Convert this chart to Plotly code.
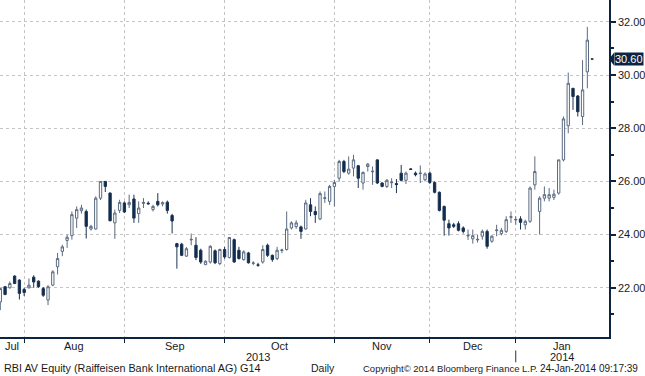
import numpy as np
import plotly.graph_objects as go

# ---------------- data ----------------
months = ["Jul", "Aug", "Sep", "Oct", "Nov", "Dec", "Jan"]
days_in_month = [5, 21, 21, 23, 20, 18, 17]
year_labels = ["2013", "2014"]
y_ticks = [22, 24, 26, 28, 30, 32]
y_minor = [21, 23, 25, 27, 29, 31]
last_price = 30.60

opens = [21.47, 22.04, 22.00, 22.44, 22.29, 21.94, 22.00, 22.40, 22.25, 21.97,
         21.54, 22.10, 22.79, 23.37, 23.78, 23.96, 24.62, 24.90, 24.87, 24.21,
         24.21, 25.37, 26.00, 25.56, 24.44, 24.91, 25.19, 25.12, 25.34, 24.79,
         25.17, 25.18, 24.94, 25.25, 25.15, 25.22, 24.72, 23.66, 23.64, 23.19,
         23.80, 23.60, 23.41, 22.87, 22.97, 23.39, 22.91, 23.44, 23.14, 23.81,
         23.41, 23.06, 23.31, 22.92, 22.86, 22.97, 23.60, 23.22, 23.10, 23.40,
         23.44, 24.25, 24.30, 24.29, 24.21, 25.12, 24.87, 24.59, 25.36, 25.25,
         25.81, 26.12, 26.75, 26.31, 26.50, 26.59, 25.94, 26.56, 26.36, 26.81,
         25.94, 25.81, 25.95, 25.92, 26.31, 26.04, 26.47, 26.31, 26.29, 26.06,
         26.31, 25.96, 25.59, 25.06, 24.41, 24.37, 24.41, 24.25, 23.95, 23.84,
         23.80, 23.94, 24.12, 23.75, 24.15, 24.04, 24.12, 24.65, 24.55, 24.59,
         24.37, 24.50, 25.87, 24.87, 25.37, 25.37, 25.40, 25.56, 26.81, 28.09,
         29.50, 29.21, 28.44, 30.12, 30.60]
highs = [21.99, 22.07, 22.24, 22.47, 22.32, 22.00, 22.35, 22.47, 22.28, 22.03,
         22.10, 22.66, 23.31, 23.62, 24.00, 24.87, 25.06, 25.12, 24.94, 24.37,
         25.44, 26.00, 26.00, 25.59, 24.94, 25.31, 25.25, 25.50, 25.50, 25.25,
         25.37, 25.25, 25.12, 25.56, 25.25, 25.28, 24.78, 23.69, 23.69, 23.53,
         24.04, 23.90, 23.47, 23.03, 23.60, 23.44, 23.47, 23.54, 23.91, 23.85,
         23.54, 23.41, 23.35, 23.00, 22.94, 23.60, 23.66, 23.25, 23.54, 23.47,
         24.87, 24.50, 24.54, 24.34, 25.31, 25.37, 25.06, 25.62, 25.62, 25.87,
         26.06, 26.81, 26.81, 26.94, 27.00, 26.62, 26.37, 26.69, 26.56, 26.81,
         25.97, 26.09, 26.12, 26.09, 26.62, 26.37, 26.50, 26.37, 26.60, 26.34,
         26.37, 26.00, 25.62, 25.09, 24.56, 24.44, 24.50, 24.31, 24.19, 24.19,
         24.00, 24.19, 24.19, 23.97, 24.37, 24.25, 24.69, 24.87, 24.69, 24.69,
         24.56, 25.81, 26.94, 25.44, 25.81, 25.75, 25.69, 26.81, 28.44, 30.09,
         29.50, 29.25, 30.56, 31.81, 30.60]
lows = [21.16, 21.72, 21.97, 22.14, 21.56, 21.69, 21.97, 22.00, 22.00, 21.66,
        21.35, 22.06, 22.50, 23.19, 23.50, 23.81, 24.25, 24.79, 23.85, 24.15,
        24.19, 25.30, 25.60, 24.50, 23.84, 24.81, 24.81, 25.00, 24.44, 24.44,
        25.00, 25.12, 24.87, 25.06, 25.06, 24.79, 24.04, 22.72, 23.19, 23.16,
        23.60, 23.04, 22.90, 22.85, 22.91, 22.89, 22.85, 23.09, 23.10, 22.94,
        23.06, 23.02, 22.91, 22.85, 22.79, 22.91, 23.16, 22.98, 23.04, 23.30,
        23.40, 24.19, 24.22, 23.84, 24.19, 24.69, 24.44, 24.54, 25.19, 25.12,
        25.06, 26.00, 26.31, 26.25, 26.19, 25.75, 25.69, 26.37, 25.87, 25.90,
        25.78, 25.75, 25.75, 25.56, 26.00, 25.90, 26.44, 26.19, 25.94, 26.00,
        25.90, 25.55, 24.87, 23.96, 23.96, 24.25, 24.12, 24.04, 23.80, 23.66,
        23.70, 23.81, 23.47, 23.69, 23.94, 23.97, 24.06, 24.44, 24.37, 24.19,
        24.19, 24.44, 25.69, 24.00, 25.25, 25.25, 25.30, 25.50, 26.75, 27.81,
        28.69, 28.44, 28.12, 29.50, 30.60]
closes = [21.97, 21.75, 22.16, 22.16, 21.79, 21.82, 22.10, 22.22, 22.04, 21.72,
          22.04, 22.60, 23.10, 23.54, 23.90, 24.75, 24.94, 25.00, 24.31, 24.31,
          25.37, 26.00, 25.81, 24.52, 24.81, 25.21, 24.85, 25.21, 24.62, 25.00,
          25.21, 25.16, 25.06, 25.12, 25.20, 24.91, 24.51, 23.54, 23.22, 23.47,
          23.82, 23.14, 22.97, 23.00, 23.56, 22.94, 23.44, 23.16, 23.89, 22.97,
          23.10, 23.35, 22.94, 22.93, 22.85, 23.44, 23.22, 23.06, 23.41, 23.42,
          24.21, 24.44, 24.44, 24.12, 25.19, 24.87, 24.75, 25.54, 25.38, 25.81,
          25.96, 26.75, 26.37, 26.46, 26.81, 26.12, 26.34, 26.65, 26.38, 25.94,
          25.81, 26.04, 25.97, 25.88, 26.04, 26.31, 26.45, 26.25, 26.31, 26.28,
          25.96, 25.59, 24.91, 24.54, 24.25, 24.31, 24.16, 24.12, 23.97, 23.96,
          23.82, 24.12, 23.56, 23.94, 24.17, 24.16, 24.56, 24.67, 24.57, 24.46,
          24.50, 25.75, 26.37, 25.37, 25.50, 25.50, 25.52, 26.81, 28.35, 29.69,
          29.19, 28.62, 29.44, 31.31, 30.60]

footer_left = "RBI AV Equity (Raiffeisen Bank International AG) G14"
footer_mid = "Daily"
footer_copy = "Copyright\u00a9 2014 Bloomberg Finance L.P."
footer_right = "24-Jan-2014 09:17:39"

# ---------------- figure ----------------
n = len(opens)
x = list(range(n))
starts = np.cumsum([0] + days_in_month[:-1])
x_min, x_max = -0.0625, 127.54
y_min, y_max = 20.15, 32.82

NAVY = "#0c2440"
FONT = "Liberation Sans, Arial, sans-serif"
FS = 11

fig = go.Figure(go.Candlestick(
    x=x, open=opens, high=highs, low=lows, close=closes,
    increasing=dict(line=dict(color="#5b6b80", width=1), fillcolor="#ffffff"),
    decreasing=dict(line=dict(color="#1c3352", width=1), fillcolor="#0d2a4d"),
    whiskerwidth=0, hoverinfo="skip", showlegend=False,
))

fig.update_layout(
    width=645, height=376,
    margin=dict(l=0, r=33, t=0, b=39),
    paper_bgcolor="white", plot_bgcolor="white",
    font=dict(family=FONT, size=FS, color="#1a1a1a"),
    showlegend=False,
    xaxis=dict(
        range=[x_min, x_max], rangeslider=dict(visible=False),
        tickvals=list(starts[1:]), showticklabels=False,
        ticks="outside", ticklen=4, tickcolor=NAVY, tickwidth=1,
        showgrid=True, gridcolor="#c4c4c4", griddash="dot", gridwidth=1,
        showline=True, linecolor=NAVY, linewidth=1.5, zeroline=False,
    ),
    yaxis=dict(
        side="right", range=[y_min, y_max],
        tickvals=y_ticks, ticktext=[f"{v:.2f}" for v in y_ticks],
        ticks="outside", ticklen=5, tickcolor=NAVY, tickwidth=1.5,
        showgrid=True, gridcolor="#c4c4c4", griddash="dot", gridwidth=1,
        showline=True, linecolor=NAVY, linewidth=1.5, zeroline=False,
        tickfont=dict(size=FS, color="#1a1a1a"),
        minor=dict(tickvals=y_minor, ticks="outside", ticklen=3,
                   tickcolor=NAVY, showgrid=False),
    ),
)

# month labels centred between boundaries
bounds = [x_min] + list(starts[1:]) + [x_max]
for i, m in enumerate(months):
    fig.add_annotation(x=(bounds[i] + bounds[i + 1]) / 2, y=-0.027, xref="x", yref="paper",
                       text=m, showarrow=False, font=dict(size=FS), yanchor="middle")
# year labels centred over each year's span
fig.add_annotation(x=(x_min + starts[6]) / 2, y=-0.06, xref="x", yref="paper",
                   text=year_labels[0], showarrow=False, font=dict(size=FS), yanchor="middle")
fig.add_annotation(x=(starts[6] + x_max) / 2, y=-0.06, xref="x", yref="paper",
                   text=year_labels[1], showarrow=False, font=dict(size=FS), yanchor="middle")
fig.add_shape(type="line", xref="x", yref="paper", x0=starts[6], x1=starts[6],
              y0=-0.04, y1=-0.075, line=dict(color="#333333", width=1))

# last price tag
fig.add_annotation(x=1.0, xref="paper", y=last_price, yref="y", xanchor="left",
                   xshift=5, text=f"{last_price:.2f}", showarrow=False,
                   bgcolor=NAVY, font=dict(color="white", size=FS), borderpad=0)
dy = 0.25
fig.add_shape(type="path", xref="paper", yref="y",
              path=f"M 1.0 {last_price} L 1.0085 {last_price + dy} L 1.0085 {last_price - dy} Z",
              fillcolor=NAVY, line=dict(color=NAVY, width=0))

# footer
fy = -0.092
fig.add_annotation(x=0.003, y=fy, xref="paper", yref="paper", xanchor="left", text=footer_left,
                   showarrow=False, font=dict(size=10.8), yanchor="middle")
fig.add_annotation(x=325 / 612.5, y=fy, xref="paper", yref="paper", xanchor="center", text=footer_mid,
                   showarrow=False, font=dict(size=10.5), yanchor="middle")
fig.add_annotation(x=363 / 612.5, y=fy, xref="paper", yref="paper", xanchor="left", text=footer_copy,
                   showarrow=False, font=dict(size=9.5), yanchor="middle")
fig.add_annotation(x=644 / 612.5, y=fy, xref="paper", yref="paper", xanchor="right", text=footer_right,
                   showarrow=False, font=dict(size=10), yanchor="middle")

fig.write_html("out.html", config={"displayModeBar": False})

# remove the browser's default page margin so the figure sits at (0, 0)
with open("out.html", "r", encoding="utf-8") as f:
    html = f.read()
html = html.replace("<body>", '<body style="margin:0;padding:0;">', 1)
html = html.replace("<head>", "<head><style>html,body{margin:0;padding:0;}</style>", 1)
with open("out.html", "w", encoding="utf-8") as f:
    f.write(html)
